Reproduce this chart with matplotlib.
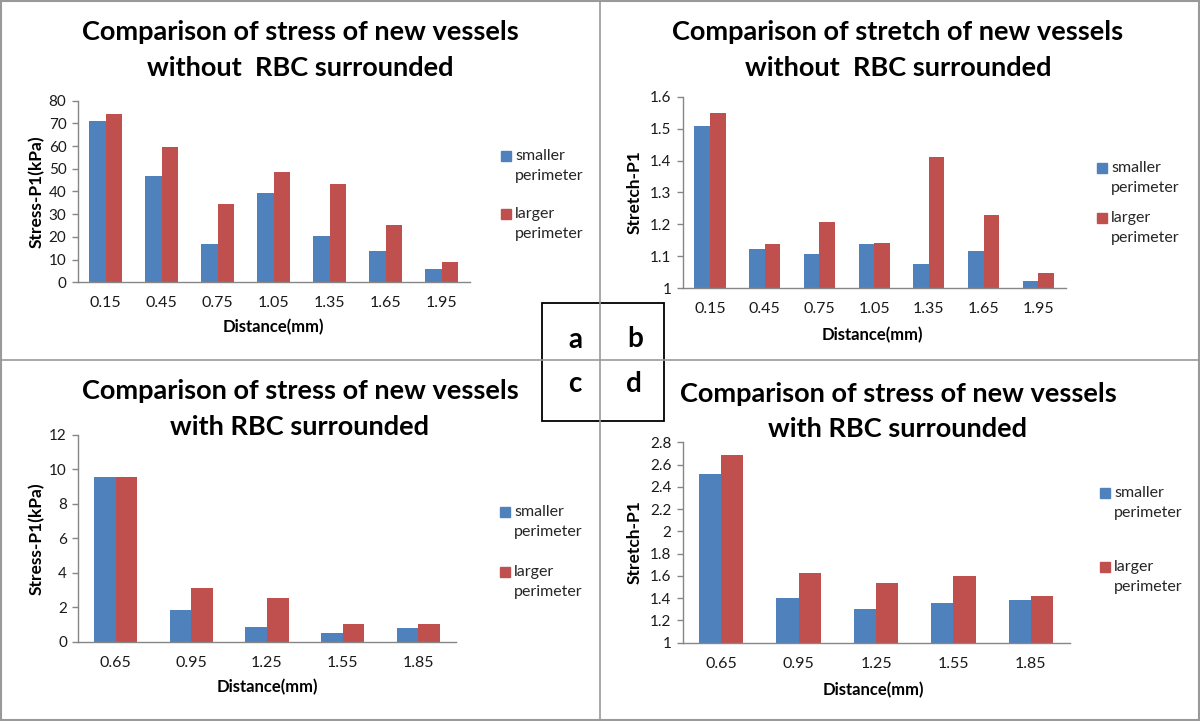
import matplotlib.pyplot as plt
from matplotlib.patches import Rectangle
from matplotlib.lines import Line2D
import numpy as np

plt.rcParams['font.family'] = ['Lato', 'DejaVu Sans']

# panel a: stress without RBC
dist_top = ['0.15', '0.45', '0.75', '1.05', '1.35', '1.65', '1.95']
stress_small_a = [71.2, 47.0, 17.0, 39.5, 20.4, 13.9, 6.0]
stress_large_a = [74.0, 59.5, 34.5, 48.5, 43.3, 25.3, 8.8]

# panel b: stretch without RBC
stretch_small_b = [1.509, 1.122, 1.107, 1.139, 1.075, 1.118, 1.024]
stretch_large_b = [1.549, 1.138, 1.208, 1.142, 1.410, 1.228, 1.048]

# panel c: stress with RBC
dist_bottom = ['0.65', '0.95', '1.25', '1.55', '1.85']
stress_small_c = [9.55, 1.83, 0.83, 0.48, 0.77]
stress_large_c = [9.55, 3.13, 2.55, 1.05, 1.05]

# panel d: stretch with RBC
stretch_small_d = [2.515, 1.405, 1.305, 1.355, 1.385]
stretch_large_d = [2.683, 1.630, 1.540, 1.600, 1.420]

series_names = ['smaller\nperimeter', 'larger\nperimeter']
colors = ['#4F81BD', '#C0504D']

W, H = 1200, 721
fig = plt.figure(figsize=(W / 100, H / 100), dpi=100)


def pos(x, y):
    return x / W, 1 - y / H


def axes_px(left, right, bottom, top):
    return fig.add_axes([left / W, 1 - bottom / H, (right - left) / W, (bottom - top) / H])


def bar_panel(ax, cats, small, large, ylim, step, ylabel, ylab_x):
    x = np.arange(len(cats))
    w = 0.286
    base = ylim[0]
    ax.bar(x - w / 2, np.array(small) - base, w, bottom=base, color=colors[0])
    ax.bar(x + w / 2, np.array(large) - base, w, bottom=base, color=colors[1])
    ax.set_xlim(-0.5, len(cats) - 0.5)
    ax.set_ylim(*ylim)
    ax.set_yticks(np.round(np.arange(ylim[0], ylim[1] + step / 2, step), 3))
    ax.yaxis.set_major_formatter(plt.FuncFormatter(lambda v, p: f'{v:g}'))
    ax.set_xticks(x)
    ax.set_xticklabels(cats)
    for s in ['top', 'right']:
        ax.spines[s].set_visible(False)
    for s in ['left', 'bottom']:
        ax.spines[s].set_color('#868686')
        ax.spines[s].set_linewidth(1.0)
    ax.tick_params(axis='x', length=0, pad=10, labelsize=11.5, labelcolor='#1a1a1a')
    ax.tick_params(axis='y', length=4, width=1, color='#868686', pad=4,
                   labelsize=11, labelcolor='#1a1a1a')
    ax.set_ylabel(ylabel, fontsize=12.5, fontweight='bold')
    ax.yaxis.set_label_coords(ylab_x, 0.5)


ax_a = axes_px(77.5, 469.5, 282.3, 100.7)
bar_panel(ax_a, dist_top, stress_small_a, stress_large_a, (0, 80), 10, 'Stress-P1(kPa)', -0.083)
ax_b = axes_px(682.7, 1065.6, 288.3, 96.7)
bar_panel(ax_b, dist_top, stretch_small_b, stretch_large_b, (1, 1.6), 0.1, 'Stretch-P1', -0.104)
ax_c = axes_px(78, 456, 641.7, 435)
bar_panel(ax_c, dist_bottom, stress_small_c, stress_large_c, (0, 12), 2, 'Stress-P1(kPa)', -0.087)
ax_d = axes_px(682.5, 1069.5, 642.7, 442.3)
bar_panel(ax_d, dist_bottom, stretch_small_d, stretch_large_d, (1, 2.8), 0.2, 'Stretch-P1', -0.102)

# titles
titles = [
    (300, 32, 'Comparison of stress of new vessels', 68, 'without  RBC surrounded'),
    (898, 32, 'Comparison of stretch of new vessels', 68, 'without  RBC surrounded'),
    (300, 391, 'Comparison of stress of new vessels', 427, 'with RBC surrounded'),
    (898, 394, 'Comparison of stress of new vessels', 429, 'with RBC surrounded'),
]
for cx, y1, t1, y2, t2 in titles:
    fig.text(*pos(cx, y1), t1, ha='center', va='center', fontsize=19.5, fontweight='bold')
    fig.text(*pos(cx, y2), t2, ha='center', va='center', fontsize=19.5, fontweight='bold')

# x axis labels
for cx, cy in [(273, 327), (872, 335), (267, 687), (873, 690)]:
    fig.text(*pos(cx, cy), 'Distance(mm)', ha='center', va='center', fontsize=12, fontweight='bold')

# legends
legend_pos = [(501, 156, 214), (1097, 168, 218), (500, 512, 572), (1100, 493, 567)]
for lx, y1, y2 in legend_pos:
    for yy, name, col in [(y1, series_names[0], colors[0]), (y2, series_names[1], colors[1])]:
        fig.patches.append(Rectangle(pos(lx, yy + 5), 10 / W, 10 / H,
                                     transform=fig.transFigure, color=col))
        first, second = name.split('\n')
        fig.text(*pos(lx + 14, yy), first, ha='left', va='center', fontsize=11.5, color='#262626')
        fig.text(*pos(lx + 14, yy + 20), second, ha='left', va='center', fontsize=11.5, color='#262626')

# panel dividers and outer frame
grey = '#999999'
fig.add_artist(Line2D([600 / W, 600 / W], [0, 1], color=grey, lw=1.2, transform=fig.transFigure))
fig.add_artist(Line2D([0, 1], [1 - 360 / H, 1 - 360 / H], color=grey, lw=1.2, transform=fig.transFigure))
fig.add_artist(Rectangle((1 / W, 1 / H), 1 - 2 / W, 1 - 2 / H, fill=False, ec=grey, lw=1.5,
                         transform=fig.transFigure))

# centre label box
fig.add_artist(Rectangle(pos(542, 421), (664 - 542) / W, (421 - 303) / H, fill=False,
                         ec='black', lw=1.3, transform=fig.transFigure))
for ch, x, y in [('a', 575, 340), ('b', 635, 339), ('c', 575, 384), ('d', 634, 384)]:
    fig.text(*pos(x, y), ch, ha='center', va='center', fontsize=20, fontweight='bold')

fig.savefig('out.png', dpi=100)
